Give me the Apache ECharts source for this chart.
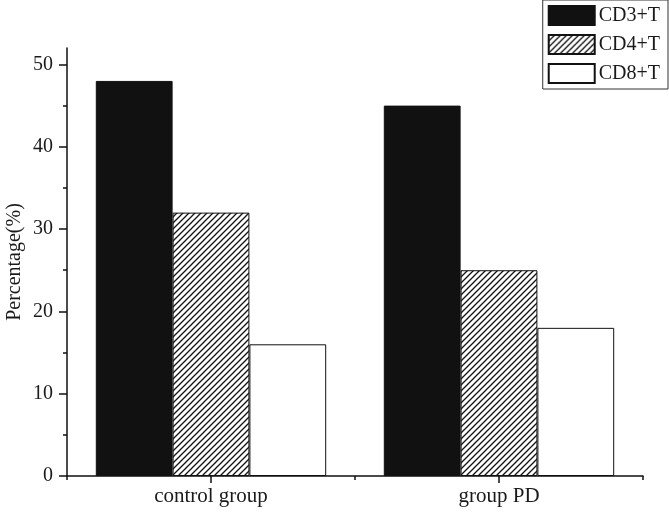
<!DOCTYPE html>
<html>
<head>
<meta charset="utf-8">
<script src="https://cdn.jsdelivr.net/npm/echarts@6/dist/echarts.min.js"></script>
<style>html,body{margin:0;padding:0;background:#fff;}#c{width:669px;height:514px;}</style>
</head>
<body>
<div id="c"></div>
<script>
var categories = ['control group', 'group PD'];
var seriesNames = ['CD3+T', 'CD4+T', 'CD8+T'];
var cd3 = [48, 45];
var cd4 = [32, 25];
var cd8 = [16, 18];
var yMajorTicks = [0, 10, 20, 30, 40, 50];
var yMinorTicks = [5, 15, 25, 35, 45];

function hatch() {
  var c = document.createElement('canvas');
  c.width = 6; c.height = 6;
  var g = c.getContext('2d');
  g.fillStyle = '#fff'; g.fillRect(0, 0, 6, 6);
  g.strokeStyle = '#111'; g.lineWidth = 1.3;
  g.beginPath();
  g.moveTo(-1, 7); g.lineTo(7, -1);
  g.moveTo(-1, 1); g.lineTo(1, -1);
  g.moveTo(5, 7); g.lineTo(7, 5);
  g.stroke();
  return c;
}
var font = '"Liberation Serif", "Times New Roman", serif';
var txt = '#1a1a1a';
var chart = echarts.init(document.getElementById('c'), null, {renderer: 'canvas'});
chart.setOption({
  animation: false,
  backgroundColor: '#fff',
  grid: {left: 67, right: 26, top: 48, bottom: 38, containLabel: false, outerBoundsMode: 'none'},
  legend: {
    data: seriesNames,
    right: 1, top: 0,
    orient: 'vertical',
    icon: 'rect',
    itemWidth: 46, itemHeight: 19, itemGap: 8,
    padding: [5, 8, 5, 5],
    borderColor: '#333', borderWidth: 1,
    backgroundColor: '#fff',
    textStyle: {fontFamily: font, fontSize: 20, color: txt, padding: [0, 0, 0, -1]}
  },
  xAxis: [{
    type: 'category', data: categories,
    axisLine: {lineStyle: {color: '#111', width: 1.5}},
    axisTick: {show: true, length: 4, lineStyle: {color: '#111', width: 1.5}},
    axisLabel: {fontFamily: font, fontSize: 21, color: txt, margin: 10},
    splitLine: {show: false}
  }, {
    type: 'category', data: categories, position: 'bottom',
    axisLine: {show: false},
    axisTick: {show: true, alignWithLabel: true, length: 7, lineStyle: {color: '#111', width: 1.5}},
    axisLabel: {show: false},
    splitLine: {show: false}
  }],
  yAxis: [{
    type: 'value', min: 0, max: 52,
    name: 'Percentage(%)', nameLocation: 'middle', nameGap: 42, nameMoveOverlap: false,
    nameTextStyle: {fontFamily: font, fontSize: 20, color: txt},
    axisLine: {show: true, lineStyle: {color: '#111', width: 1.5}},
    axisTick: {show: true, length: 8, customValues: yMajorTicks, lineStyle: {color: '#111', width: 1.5}},
    axisLabel: {fontFamily: font, fontSize: 20, color: txt, margin: 14, customValues: yMajorTicks},
    splitLine: {show: false}
  }, {
    type: 'value', min: 0, max: 52, position: 'left',
    axisLine: {show: false},
    axisTick: {show: true, length: 4, customValues: yMinorTicks, lineStyle: {color: '#111', width: 1.5}},
    axisLabel: {show: false},
    splitLine: {show: false}
  }],
  series: [{
    name: seriesNames[0], type: 'bar', data: cd3,
    barCategoryGap: '20%', barGap: 0,
    itemStyle: {color: '#111', borderColor: '#111', borderWidth: 1}
  }, {
    name: seriesNames[1], type: 'bar', data: cd4,
    barCategoryGap: '20%', barGap: 0,
    itemStyle: {color: {image: hatch(), repeat: 'repeat'}, borderColor: '#111', borderWidth: 1}
  }, {
    name: seriesNames[2], type: 'bar', data: cd8,
    barCategoryGap: '20%', barGap: 0,
    itemStyle: {color: '#fff', borderColor: '#111', borderWidth: 1}
  }]
});
</script>
</body>
</html>
